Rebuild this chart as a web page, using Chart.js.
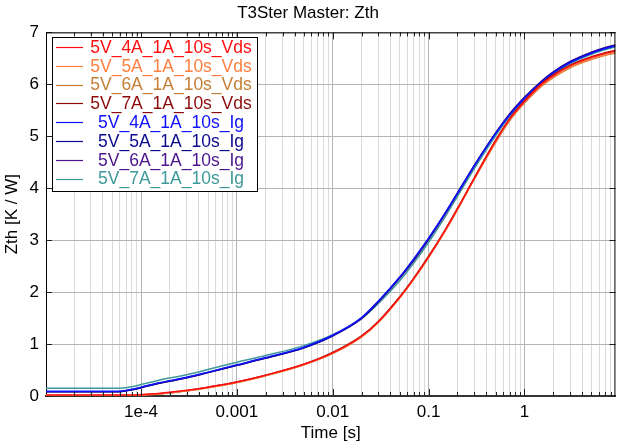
<!DOCTYPE html>
<html>
<head>
<meta charset="utf-8">
<script src="https://cdn.jsdelivr.net/npm/chart.js@4.4.1/dist/chart.umd.min.js"></script>
<style>
  html, body { margin: 0; padding: 0; background: #fff; }
  #wrap { width: 617px; height: 447px; }
</style>
</head>
<body>
<div id="wrap"><canvas id="zth"></canvas></div>
<script>
// time axis samples [s]
const times = [1.02e-5, 2e-5, 5.5e-5, 8e-5, 1e-4, 1.5e-4, 3e-4, 5e-4, 1e-3, 2e-3, 5e-3, 0.01, 0.02, 0.03, 0.05,
               0.07, 0.1, 0.15, 0.2, 0.3, 0.5, 0.7, 1, 1.5, 2, 3, 5, 7, 8.9];

// Zth [K/W]
const vds4A = [0.02, 0.02, 0.02, 0.02, 0.03, 0.05, 0.11, 0.17, 0.27, 0.40, 0.61, 0.83, 1.15, 1.43, 1.90,
               2.26, 2.68, 3.20, 3.60, 4.19, 4.91, 5.33, 5.67, 6.00, 6.17, 6.36, 6.52, 6.60, 6.64];
const vds5A = [0.01, 0.01, 0.01, 0.01, 0.02, 0.04, 0.10, 0.16, 0.26, 0.39, 0.60, 0.82, 1.14, 1.42, 1.89,
               2.25, 2.67, 3.19, 3.59, 4.18, 4.89, 5.31, 5.65, 5.97, 6.14, 6.33, 6.49, 6.57, 6.61];
const vds6A = [0.01, 0.01, 0.01, 0.01, 0.02, 0.04, 0.10, 0.16, 0.26, 0.39, 0.60, 0.82, 1.14, 1.42, 1.89,
               2.25, 2.67, 3.19, 3.59, 4.18, 4.88, 5.30, 5.64, 5.96, 6.13, 6.32, 6.48, 6.56, 6.60];
const vds7A = [0.00, 0.00, 0.00, 0.00, 0.02, 0.04, 0.10, 0.17, 0.27, 0.40, 0.61, 0.84, 1.16, 1.44, 1.91,
               2.27, 2.69, 3.21, 3.61, 4.20, 4.92, 5.34, 5.68, 6.01, 6.18, 6.37, 6.53, 6.61, 6.65];
const ig4A  = [0.09, 0.09, 0.09, 0.13, 0.17, 0.25, 0.36, 0.46, 0.60, 0.74, 0.94, 1.17, 1.51, 1.83, 2.29,
               2.64, 3.04, 3.53, 3.90, 4.43, 5.05, 5.41, 5.73, 6.04, 6.22, 6.42, 6.60, 6.69, 6.74];
const ig5A  = [0.08, 0.08, 0.08, 0.12, 0.16, 0.24, 0.35, 0.45, 0.59, 0.73, 0.93, 1.16, 1.50, 1.82, 2.28,
               2.63, 3.03, 3.53, 3.91, 4.44, 5.06, 5.42, 5.74, 6.05, 6.23, 6.43, 6.61, 6.70, 6.75];
const ig6A  = [0.08, 0.08, 0.08, 0.12, 0.16, 0.24, 0.35, 0.45, 0.59, 0.73, 0.93, 1.16, 1.49, 1.81, 2.27,
               2.61, 3.01, 3.51, 3.89, 4.43, 5.06, 5.43, 5.75, 6.06, 6.24, 6.44, 6.62, 6.71, 6.76];
const ig7A  = [0.15, 0.15, 0.15, 0.18, 0.22, 0.30, 0.41, 0.51, 0.65, 0.78, 0.97, 1.18, 1.49, 1.78, 2.22,
               2.56, 2.96, 3.46, 3.84, 4.38, 5.01, 5.39, 5.71, 6.02, 6.20, 6.40, 6.58, 6.67, 6.72];

const seriesNames = ['5V_4A_1A_10s_Vds', '5V_5A_1A_10s_Vds', '5V_6A_1A_10s_Vds', '5V_7A_1A_10s_Vds',
                     '5V_4A_1A_10s_Ig', '5V_5A_1A_10s_Ig', '5V_6A_1A_10s_Ig', '5V_7A_1A_10s_Ig'];
const seriesValues = [vds4A, vds5A, vds6A, vds7A, ig4A, ig5A, ig6A, ig7A];
const seriesColors = ['#ff1010', '#ff7f40', '#c47e36', '#8c0a0a', '#1010ff', '#0a0a8c', '#4c148c', '#3d9999'];

// tick labels
const xMajorTicks = [1e-4, 1e-3, 0.01, 0.1, 1];
const xMajorLabels = ['1e-4', '0.001', '0.01', '0.1', '1'];
const yTicks = [0, 1, 2, 3, 4, 5, 6, 7];

const X_MIN = 1.02e-5, X_MAX = 8.9;
const FONT = '"Liberation Sans", Arial, sans-serif';

Chart.defaults.font.family = FONT;
Chart.defaults.color = '#000';

function isDecade(v) {
    const l = Math.log10(v);
    return Math.abs(l - Math.round(l)) < 1e-9;
}

// inward tick marks, top/right frame and the boxed legend
const frameAndLegend = {
    id: 'frameAndLegend',
    afterDatasetsDraw(chart) {
        const {ctx, chartArea: a, scales: {x, y}} = chart;
        ctx.save();
        ctx.strokeStyle = '#222';
        ctx.lineWidth = 1;
        ctx.beginPath();
        x.ticks.forEach(t => {
            const px = Math.round(x.getPixelForValue(t.value)) + 0.5;
            const len = isDecade(t.value) ? 7 : 4;
            ctx.moveTo(px, a.bottom);
            ctx.lineTo(px, a.bottom - len);
            ctx.moveTo(px, a.top);
            ctx.lineTo(px, a.top + len);
        });
        y.ticks.forEach(t => {
            const py = Math.round(y.getPixelForValue(t.value)) + 0.5;
            ctx.moveTo(a.left, py);
            ctx.lineTo(a.left + 6, py);
            ctx.moveTo(a.right, py);
            ctx.lineTo(a.right - 6, py);
        });
        ctx.stroke();

        ctx.strokeStyle = '#000';
        ctx.beginPath();
        ctx.moveTo(a.left, a.top + 0.5);
        ctx.lineTo(a.right, a.top + 0.5);
        ctx.moveTo(a.right - 0.5, a.top);
        ctx.lineTo(a.right - 0.5, a.bottom);
        ctx.stroke();

        // legend
        const lx = 52.5, ly = 37.5, lw = 205, lh = 154;
        ctx.fillStyle = '#fff';
        ctx.fillRect(lx, ly, lw, lh);
        ctx.strokeStyle = '#000';
        ctx.strokeRect(lx, ly, lw, lh);
        ctx.font = '17.5px ' + FONT;
        ctx.textAlign = 'center';
        ctx.textBaseline = 'middle';
        chart.data.datasets.forEach((ds, i) => {
            const cy = 47 + i * 18.8;
            ctx.strokeStyle = ds.borderColor;
            ctx.lineWidth = 1.2;
            ctx.beginPath();
            ctx.moveTo(56, Math.round(cy) + 0.5);
            ctx.lineTo(83, Math.round(cy) + 0.5);
            ctx.stroke();
            ctx.fillStyle = ds.borderColor;
            ctx.fillText(ds.label, 171, cy + 1);
        });
        ctx.restore();
    }
};

new Chart(document.getElementById('zth'), {
    type: 'line',
    data: {
        datasets: seriesNames.map((name, i) => ({
            label: name,
            data: times.map((t, k) => ({x: t, y: seriesValues[i][k]})),
            borderColor: seriesColors[i],
            backgroundColor: seriesColors[i],
            borderWidth: 1.5,
            pointRadius: 0,
            cubicInterpolationMode: 'monotone',
            fill: false
        }))
    },
    options: {
        responsive: true,
        maintainAspectRatio: false,
        animation: false,
        layout: {padding: {left: 0, right: 1, top: 0, bottom: 0}},
        plugins: {
            legend: {display: false},
            tooltip: {enabled: false},
            title: {
                display: true,
                text: 'T3Ster Master: Zth',
                font: {size: 17, weight: 'normal'},
                color: '#000',
                padding: {top: 3, bottom: 9}
            }
        },
        scales: {
            x: {
                type: 'logarithmic',
                min: X_MIN,
                max: X_MAX,
                afterBuildTicks: scale => {
                    const ticks = [];
                    for (let e = -6; e <= 1; e++) {
                        for (let m = 1; m <= 9; m++) {
                            const v = m * Math.pow(10, e);
                            if (v >= X_MIN && v <= X_MAX) ticks.push({value: v});
                        }
                    }
                    scale.ticks = ticks;
                },
                afterFit: scale => { scale.height = 51; },
                ticks: {
                    autoSkip: false,
                    maxRotation: 0,
                    padding: 6,
                    font: {size: 17},
                    color: '#000',
                    callback: v => {
                        const i = xMajorTicks.findIndex(m => Math.abs(m - v) / m < 1e-6);
                        return i >= 0 ? xMajorLabels[i] : '';
                    }
                },
                grid: {
                    drawTicks: false,
                    color: ctx => (ctx.tick && isDecade(ctx.tick.value)) ? '#b4b4b4' : '#dadada',
                    lineWidth: 1
                },
                border: {display: true, color: '#333', width: 2},
                title: {
                    display: true,
                    text: 'Time [s]',
                    font: {size: 17},
                    color: '#000',
                    padding: {top: 0, bottom: 3}
                }
            },
            y: {
                min: 0,
                max: 7,
                afterBuildTicks: scale => { scale.ticks = yTicks.map(v => ({value: v})); },
                afterFit: scale => { scale.width = 46; },
                ticks: {
                    padding: 7,
                    font: {size: 17},
                    color: '#000'
                },
                grid: {
                    drawTicks: false,
                    color: '#b4b4b4'
                },
                border: {display: true, color: '#000', width: 1},
                title: {
                    display: true,
                    text: 'Zth [K / W]',
                    font: {size: 17},
                    color: '#000',
                    padding: {top: 2, bottom: 0}
                }
            }
        }
    },
    plugins: [frameAndLegend]
});
</script>
</body>
</html>
